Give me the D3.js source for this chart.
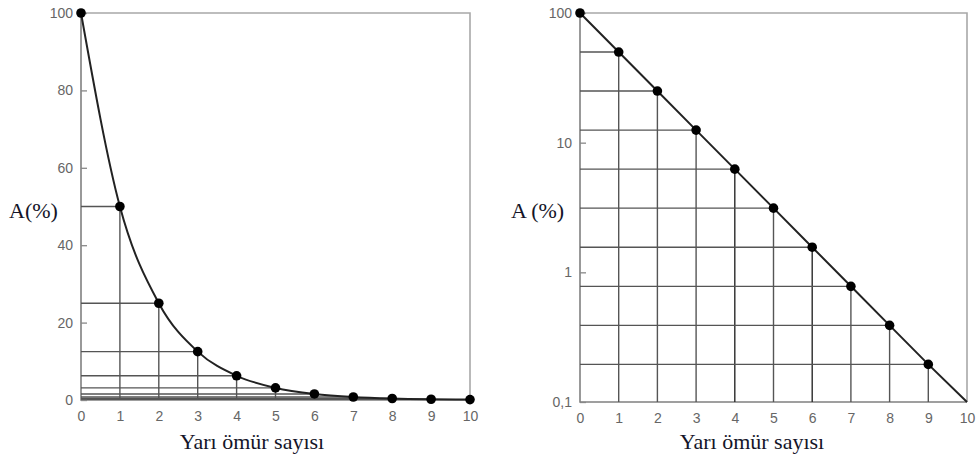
<!DOCTYPE html>
<html>
<head>
<meta charset="utf-8">
<script src="https://cdn.jsdelivr.net/npm/d3@7"></script>
<style>
  body { margin: 0; background: #fff; }
  .tick text { font-family: "Liberation Sans", Arial, sans-serif; font-size: 14px; fill: #666; }
  .title { font-family: "Liberation Serif", "Times New Roman", serif; font-size: 22px; fill: #141428; }
</style>
</head>
<body>
<div class="chart"></div>
<script>
// half-life count and remaining activity (%)
const halfLives = [0, 1, 2, 3, 4, 5, 6, 7, 8, 9, 10];
const activity = [100, 50, 25, 12.5, 6.25, 3.125, 1.5625, 0.78, 0.39, 0.195, 0.098];
const linTicks = [0, 20, 40, 60, 80, 100];
const logTicks = [0.1, 1, 10, 100];
const logTickLabels = ["0,1", "1", "10", "100"];
const xLabel = "Yarı ömür sayısı";
const yLabelLeft = "A(%)";
const yLabelRight = "A (%)";

const W = 979, H = 461;
const svg = d3.select(".chart").append("svg")
  .attr("width", W)
  .attr("height", H);

const pts = halfLives.map(function (d, i) { return { x: d, v: activity[i] }; });

// left panel: linear
var xL = d3.scaleLinear().domain([0, 10]).range([81, 470]);
var yL = d3.scaleLinear().domain([0, 100]).range([400, 13]);

// right panel: log
var xR = d3.scaleLinear().domain([0, 10]).range([580, 967]);
var yR = d3.scaleLog().domain([0.1, 100]).range([402, 13]).clamp(true);

function drawPanel(x, y, opts) {
  var g = svg.append("g");
  var y0 = y.range()[0], yTop = y.range()[1];
  var x0 = x.range()[0], xEnd = x.range()[1];

  // frame
  g.append("path")
    .attr("d", "M" + x0 + "," + yTop + "H" + xEnd + "V" + y0)
    .attr("fill", "none").attr("stroke", "#a8a8a8").attr("stroke-width", 1.6);
  g.append("path")
    .attr("d", "M" + x0 + "," + yTop + "V" + y0 + "H" + xEnd)
    .attr("fill", "none").attr("stroke", "#808080").attr("stroke-width", 1.6);

  // step grid lines down to the axes
  var gridPts = pts.filter(function (d) { return d.x > 0 && d.x < 10; });
  g.selectAll(".vgrid").data(gridPts).enter().append("line")
    .attr("x1", function (d) { return x(d.x); })
    .attr("x2", function (d) { return x(d.x); })
    .attr("y1", y0)
    .attr("y2", function (d) { return y(d.v); })
    .attr("stroke", function (d) { return opts.darkCols.indexOf(d.x) >= 0 ? "#2a2a2a" : "#555"; })
    .attr("stroke-width", 1.4);
  g.selectAll(".hgrid").data(gridPts).enter().append("line")
    .attr("x1", x0)
    .attr("x2", function (d) { return x(d.x); })
    .attr("y1", function (d) { return y(d.v); })
    .attr("y2", function (d) { return y(d.v); })
    .attr("stroke", "#555")
    .attr("stroke-width", 1.4);

  // axes
  var ya = d3.axisLeft(y).tickValues(opts.yTicks).tickSizeInner(-6).tickSizeOuter(0).tickPadding(8);
  if (opts.yFormat) ya.tickFormat(opts.yFormat);
  var yg = g.append("g").attr("transform", "translate(" + x0 + ",0)").call(ya);
  yg.select(".domain").remove();
  yg.selectAll(".tick line").attr("stroke", "#888").attr("stroke-width", 1.3);

  var xg = g.append("g").attr("transform", "translate(0," + y0 + ")")
    .call(d3.axisBottom(x).tickValues(halfLives).tickSize(0).tickPadding(11));
  xg.select(".domain").remove();

  // curve
  g.append("path")
    .datum(pts)
    .attr("d", d3.line()
      .x(function (d) { return x(d.x); })
      .y(function (d) { return y(d.v); })
      .curve(opts.curve))
    .attr("fill", "none")
    .attr("stroke", "#222")
    .attr("stroke-width", 2);

  g.selectAll(".dot").data(pts.filter(opts.dotFilter)).enter().append("circle")
    .attr("cx", function (d) { return x(d.x); })
    .attr("cy", function (d) { return y(d.v); })
    .attr("r", 4.8)
    .attr("fill", "#000");

  g.append("text").attr("class", "title")
    .attr("x", opts.xLabelX).attr("y", 449)
    .attr("text-anchor", "middle")
    .text(xLabel);
  g.append("text").attr("class", "title")
    .attr("x", opts.yLabelX).attr("y", 218)
    .attr("text-anchor", "start")
    .text(opts.yLabel);
}

drawPanel(xL, yL, {
  yTicks: linTicks,
  curve: d3.curveMonotoneX,
  darkCols: [],
  dotFilter: function () { return true; },
  xLabelX: 252,
  yLabelX: 9,
  yLabel: yLabelLeft
});

drawPanel(xR, yR, {
  yTicks: logTicks,
  yFormat: function (d, i) { return logTickLabels[i]; },
  curve: d3.curveLinear,
  darkCols: [4, 6],
  dotFilter: function (d) { return d.x < 10; },
  xLabelX: 752,
  yLabelX: 511,
  yLabel: yLabelRight
});
</script>
</body>
</html>
